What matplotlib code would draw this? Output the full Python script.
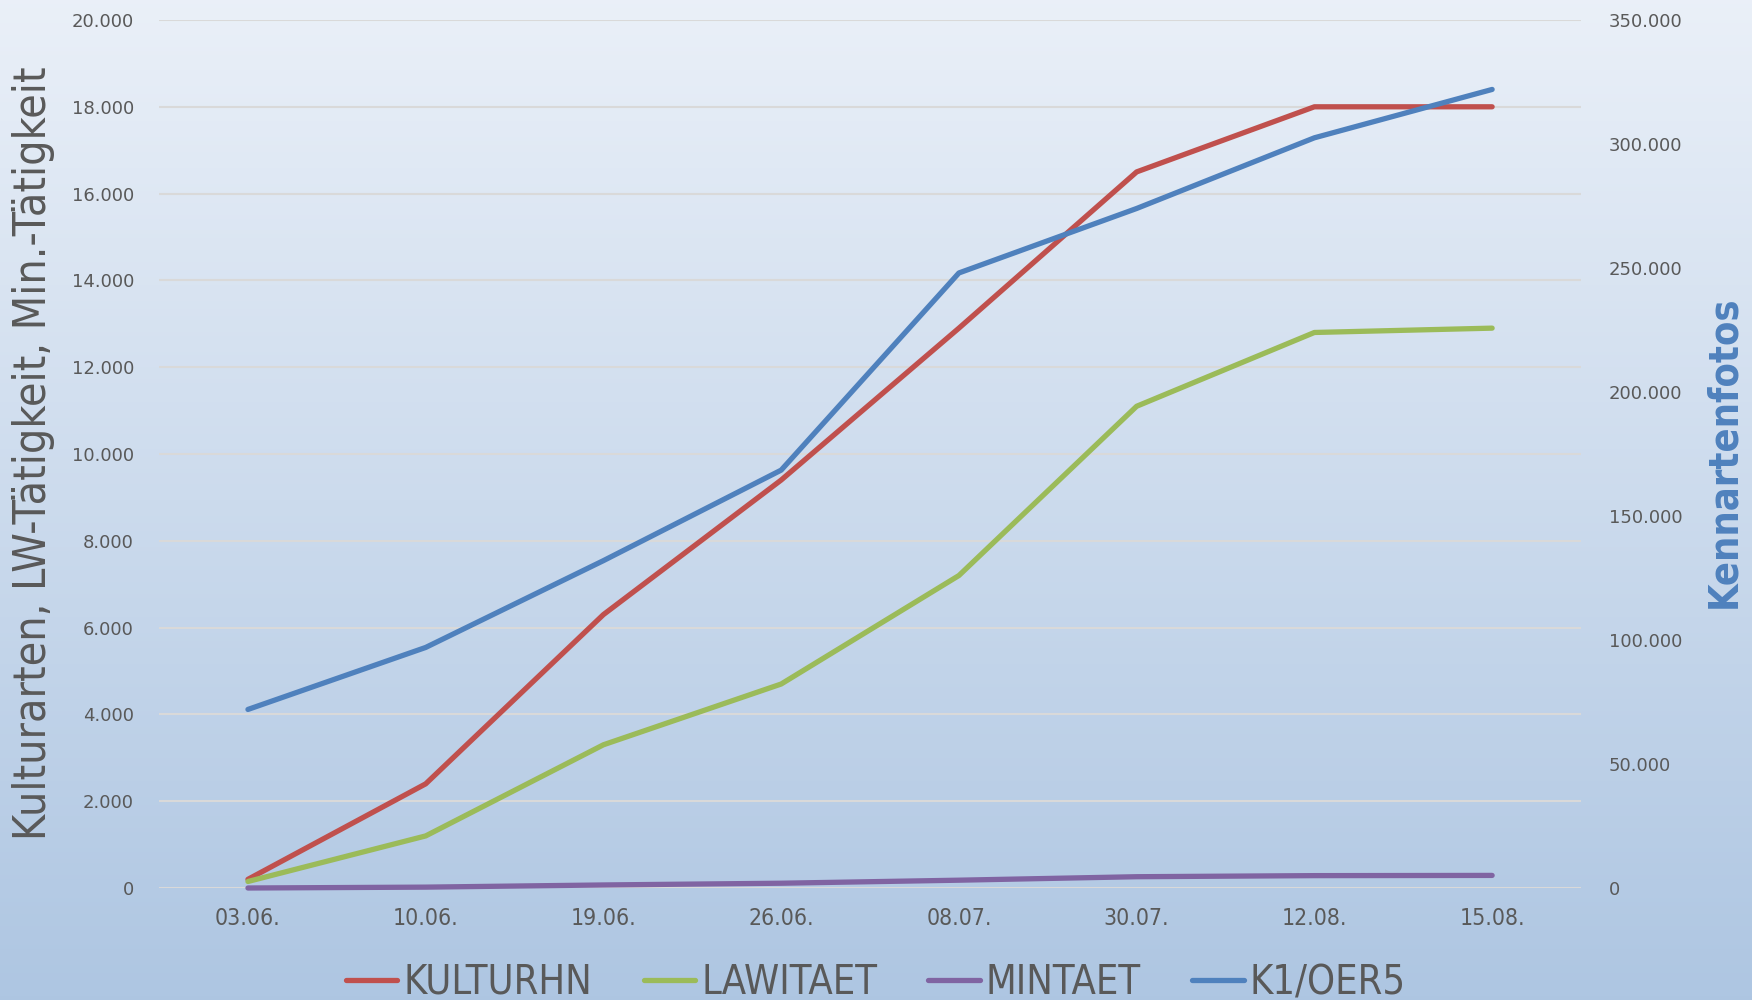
import numpy as np
import matplotlib
matplotlib.use('Agg')
import matplotlib.pyplot as plt
from matplotlib.ticker import FuncFormatter

dates = ['03.06.', '10.06.', '19.06.', '26.06.', '08.07.', '30.07.', '12.08.', '15.08.']
kulturhn = [200, 2400, 6300, 9400, 12900, 16500, 18000, 18000]
lawitaet = [150, 1200, 3300, 4700, 7200, 11100, 12800, 12900]
mintaet = [0, 20, 70, 110, 180, 260, 285, 290]
k1_oer5 = [72000, 97000, 132000, 168500, 248000, 274000, 302500, 322000]

GREY = '#595959'
LW = 3.8


def thousands(v, pos):
    return f"{int(round(v)):,}".replace(',', '.')


fig = plt.figure(figsize=(17.52, 10), dpi=100)

# gradient background
bg = fig.add_axes([0, 0, 1, 1], zorder=-10)
grad = np.linspace(0, 1, 256).reshape(-1, 1)
top = np.array([0.918, 0.941, 0.973])
bottom = np.array([0.682, 0.776, 0.886])
img = top + (bottom - top) * grad[:, :, None]
bg.imshow(img, aspect='auto', extent=[0, 1, 0, 1])
bg.axis('off')

ax = fig.add_axes([0.0908, 0.112, 0.8116, 0.868])
ax.set_facecolor('none')
x = np.arange(len(dates))

ax.plot(x, kulturhn, color='#c0504d', lw=LW, label='KULTURHN', solid_capstyle='round', zorder=3, clip_on=False)
ax.plot(x, lawitaet, color='#9bbb59', lw=LW, label='LAWITAET', solid_capstyle='round', zorder=3, clip_on=False)
ax.plot(x, mintaet, color='#8064a2', lw=LW, label='MINTAET', solid_capstyle='round', zorder=3, clip_on=False)

ax.set_xlim(-0.5, len(dates) - 0.5)
ax.set_ylim(0, 20000)
ax.set_yticks(np.arange(0, 20001, 2000))
ax.yaxis.set_major_formatter(FuncFormatter(thousands))
ax.grid(axis='y', color='#d9d9d9', lw=1.5)
ax.set_axisbelow(True)
ax.set_xticks(x)
ax.set_xticklabels(dates, fontsize=16.5, color=GREY, fontstretch='condensed')
ax.tick_params(axis='x', length=0, pad=14)
ax.tick_params(axis='y', length=0, pad=18, labelsize=13, labelcolor=GREY)
for s in ax.spines.values():
    s.set_visible(False)

ax2 = ax.twinx()
ax2.plot(x, k1_oer5, color='#4f81bd', lw=LW, label='K1/OER5', solid_capstyle='round', clip_on=False)
ax2.set_ylim(0, 350000)
ax2.set_yticks(np.arange(0, 350001, 50000))
ax2.yaxis.set_major_formatter(FuncFormatter(thousands))
ax2.tick_params(axis='y', length=0, pad=20, labelsize=13, labelcolor=GREY)
for s in ax2.spines.values():
    s.set_visible(False)

fig.text(0.019, 0.5465, 'Kulturarten, LW-Tätigkeit, Min.-Tätigkeit', rotation=90,
         ha='center', va='center', fontsize=32, color=GREY, fontstretch='condensed')
fig.text(0.984, 0.548, 'Kennartenfotos', rotation=90, ha='center', va='center',
         fontsize=28.5, color='#4f81bd', fontweight='bold', fontstretch='condensed')

handles = ax.get_lines() + ax2.get_lines()
leg = fig.legend(handles, [h.get_label() for h in handles], loc='center',
                 bbox_to_anchor=(0.5, 0.017), ncol=4, frameon=False,
                 handlelength=1.3, handletextpad=0.15, columnspacing=1.3,
                 prop={'size': 28.5, 'stretch': 'condensed'})
for t in leg.get_texts():
    t.set_color(GREY)

fig.savefig('out.png', dpi=100)
